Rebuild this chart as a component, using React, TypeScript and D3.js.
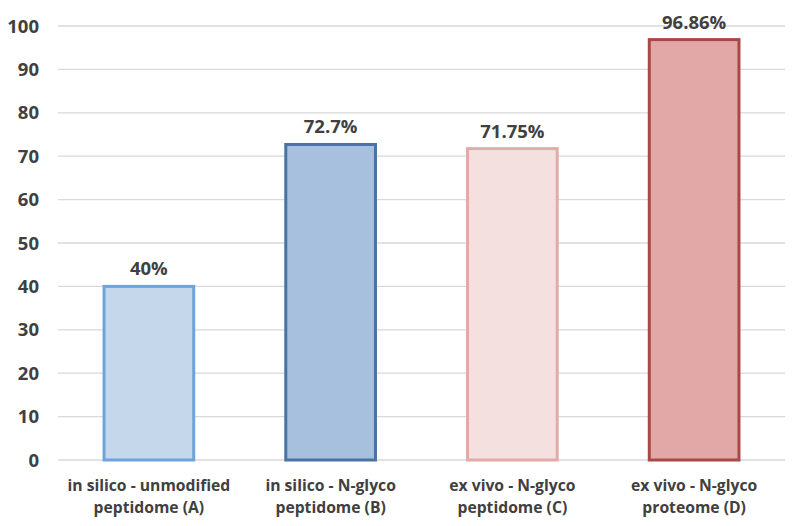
import React from "react";
import * as d3 from "d3";

const categories = [
  ["in silico - unmodified", "peptidome (A)"],
  ["in silico - N-glyco", "peptidome (B)"],
  ["ex vivo - N-glyco", "peptidome (C)"],
  ["ex vivo - N-glyco", "proteome (D)"],
];
const values = [40, 72.7, 71.75, 96.86];
const valueLabels = ["40%", "72.7%", "71.75%", "96.86%"];
const fills = ["#c5d7eb", "#a7c0de", "#f4e0df", "#e2a8a7"];
const strokes = ["#6fa3dc", "#4a72a4", "#e2abaa", "#a94846"];
const yTicks = [0, 10, 20, 30, 40, 50, 60, 70, 80, 90, 100];

const width = 797;
const height = 526;
const left = 58;
const right = 785;
const top = 26;
const bottom = 460;

export default function App() {
  const x = d3
    .scaleBand<number>()
    .domain(d3.range(categories.length))
    .range([left, right])
    .paddingInner(0.49)
    .paddingOuter(0.245);
  const y = d3.scaleLinear().domain([0, 100]).range([bottom, top]);
  const font = "'Open Sans', 'Liberation Sans', sans-serif";

  return (
    <svg
      width={width}
      height={height}
      style={{ position: "absolute", left: 0, top: 0, background: "#fff" }}
      fontFamily={font}
      fontWeight="bold"
      fill="#404040"
    >
      {yTicks.map((t) => (
        <g key={t}>
          <line x1={left} x2={right} y1={y(t)} y2={y(t)} stroke="#d9d9d9" strokeWidth={1.3} />
          <text x={39} y={y(t)} dy="0.36em" textAnchor="end" fontSize={18.5}>
            {t}
          </text>
        </g>
      ))}
      {values.map((v, i) => (
        <g key={i}>
          <rect
            x={x(i)! + 1.5}
            y={y(v)}
            width={x.bandwidth() - 3}
            height={bottom - y(v)}
            fill={fills[i]}
            stroke={strokes[i]}
            strokeWidth={3}
          />
          <text x={x(i)! + x.bandwidth() / 2} y={y(v) - 11} textAnchor="middle" fontSize={18.5}>
            {valueLabels[i]}
          </text>
          {categories[i].map((line, j) => (
            <text
              key={j}
              x={x(i)! + x.bandwidth() / 2}
              y={491 + j * 21.5}
              textAnchor="middle"
              fontSize={15.7}
            >
              {line}
            </text>
          ))}
        </g>
      ))}
    </svg>
  );
}
